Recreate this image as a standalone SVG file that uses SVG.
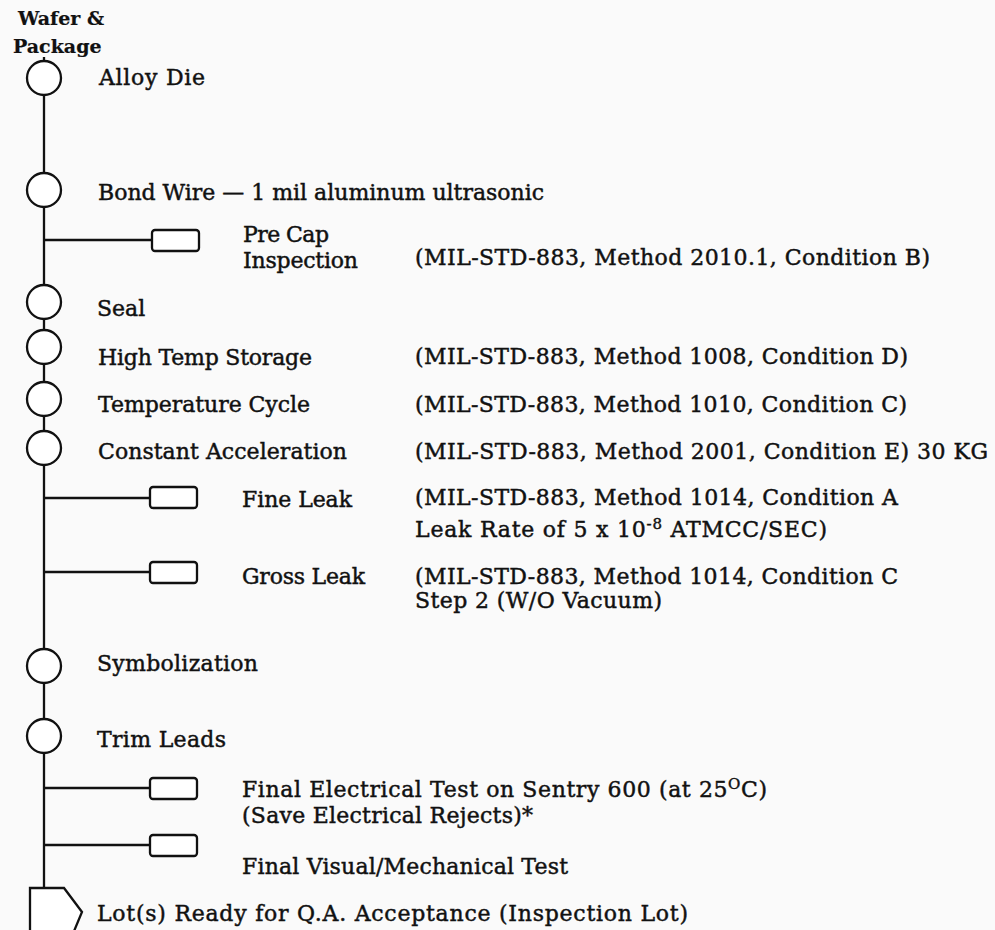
<svg xmlns="http://www.w3.org/2000/svg" width="995" height="930" viewBox="0 0 995 930">
<style>
text{font-family:"DejaVu Serif","Liberation Serif",serif;font-size:22px;fill:#111;stroke:#111;stroke-width:0.45}
.hd{font-weight:bold;font-size:19px;stroke-width:0.2}
.ln{stroke:#111;stroke-width:2.3;fill:none}
.step{fill:#fff;stroke:#111;stroke-width:2.3}
.sup{font-size:15px}
</style>
<rect width="995" height="930" fill="#fafafa"/>
<g id="connectors">
<line class="ln" x1="44" y1="57" x2="44" y2="889"/>
<line class="ln" x1="44" y1="240" x2="152" y2="240"/>
<line class="ln" x1="44" y1="498" x2="150" y2="498"/>
<line class="ln" x1="44" y1="572" x2="150" y2="572"/>
<line class="ln" x1="44" y1="788" x2="150" y2="788"/>
<line class="ln" x1="44" y1="845" x2="150" y2="845"/>
</g>
<g id="start">
<text class="hd" x="18" y="25">Wafer &amp;</text>
<text class="hd" x="13" y="53">Package</text>
</g>
<g id="alloy-die"><circle class="step" cx="44" cy="78" r="17"/><text x="99" y="85" textLength="106">Alloy Die</text></g>
<g id="bond-wire"><circle class="step" cx="44" cy="190" r="17"/><text x="98" y="200" textLength="446">Bond Wire — 1 mil aluminum ultrasonic</text></g>
<g id="pre-cap"><rect class="step" x="152" y="230" width="47" height="21" rx="3"/><text x="243" y="242" textLength="86">Pre Cap</text><text x="243" y="268" textLength="115">Inspection</text><text x="415" y="265" textLength="515">(MIL-STD-883, Method 2010.1, Condition B)</text></g>
<g id="seal"><circle class="step" cx="44" cy="302" r="17"/><text x="97" y="316">Seal</text></g>
<g id="high-temp"><circle class="step" cx="44" cy="347" r="17"/><text x="98" y="365" textLength="214">High Temp Storage</text><text x="415" y="364" textLength="493">(MIL-STD-883, Method 1008, Condition D)</text></g>
<g id="temp-cycle"><circle class="step" cx="44" cy="399" r="17"/><text x="98" y="412" textLength="212">Temperature Cycle</text><text x="415" y="412" textLength="492">(MIL-STD-883, Method 1010, Condition C)</text></g>
<g id="const-accel"><circle class="step" cx="44" cy="448" r="17"/><text x="98" y="459" textLength="249">Constant Acceleration</text><text x="415" y="459" textLength="573">(MIL-STD-883, Method 2001, Condition E) 30 KG</text></g>
<g id="fine-leak"><rect class="step" x="150" y="487" width="47" height="21" rx="3"/><text x="242" y="507" textLength="110">Fine Leak</text><text x="415" y="505" textLength="483">(MIL-STD-883, Method 1014, Condition A</text><text x="415" y="537" textLength="412">Leak Rate of 5 x 10<tspan class="sup" dy="-8">-8</tspan><tspan dy="8"> ATMCC/SEC)</tspan></text></g>
<g id="gross-leak"><rect class="step" x="150" y="562" width="47" height="21" rx="3"/><text x="242" y="584" textLength="123">Gross Leak</text><text x="415" y="584" textLength="483">(MIL-STD-883, Method 1014, Condition C</text><text x="415" y="608" textLength="247">Step 2 (W/O Vacuum)</text></g>
<g id="symbolization"><circle class="step" cx="44" cy="666" r="17"/><text x="97" y="671" textLength="161">Symbolization</text></g>
<g id="trim-leads"><circle class="step" cx="44" cy="736" r="17"/><text x="97" y="747" textLength="129">Trim Leads</text></g>
<g id="final-electrical"><rect class="step" x="150" y="778" width="47" height="21" rx="3"/><text x="242" y="797" textLength="525">Final Electrical Test on Sentry 600 (at 25<tspan class="sup" dy="-8">O</tspan><tspan dy="8">C)</tspan></text><text x="242" y="823" textLength="291">(Save Electrical Rejects)*</text></g>
<g id="final-visual"><rect class="step" x="150" y="835" width="47" height="21" rx="3"/><text x="242" y="874" textLength="326">Final Visual/Mechanical Test</text></g>
<g id="lot-ready"><path class="step" d="M30,888 H64 L82,912 L72,936 H30 Z"/><text x="97" y="921" textLength="591">Lot(s) Ready for Q.A. Acceptance (Inspection Lot)</text></g>
</svg>
